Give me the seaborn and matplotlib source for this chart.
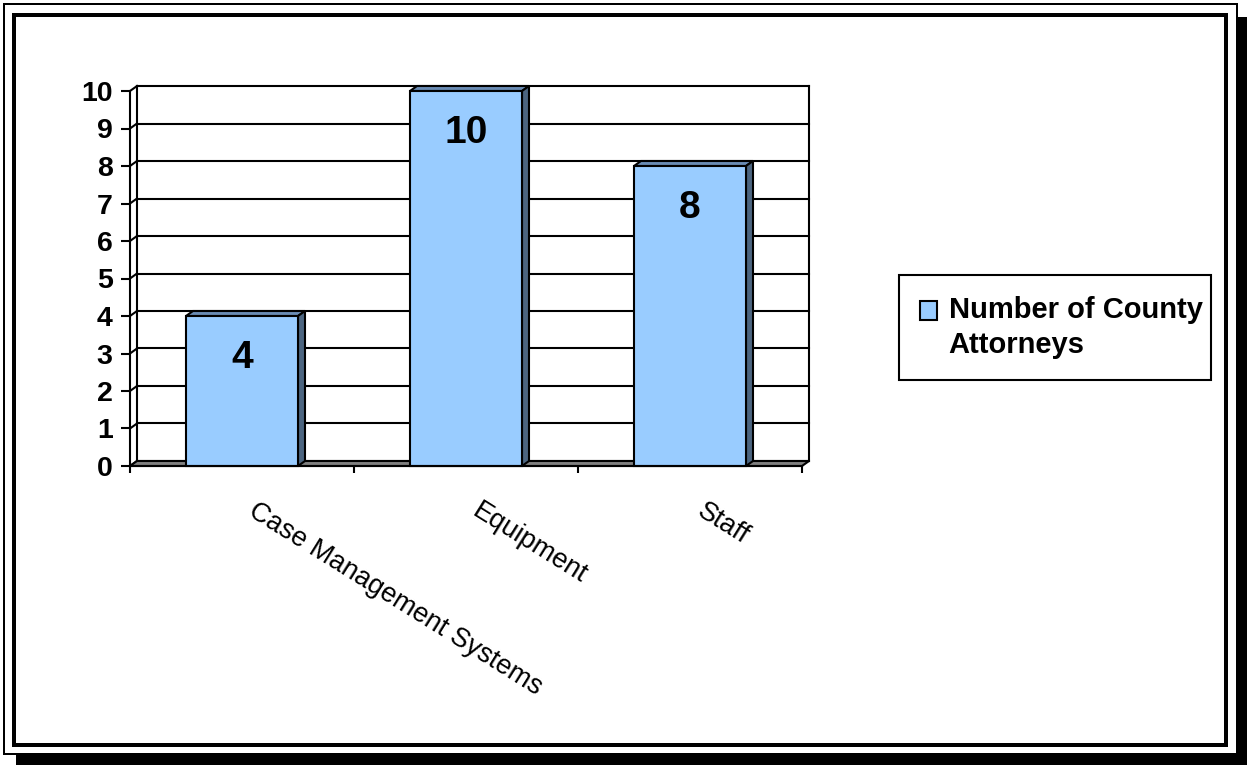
import numpy as np
import pandas as pd
import matplotlib
matplotlib.use("Agg")
import matplotlib.pyplot as plt
from matplotlib.patches import Rectangle, Polygon, Patch
from matplotlib.legend_handler import HandlerPatch
from matplotlib.transforms import blended_transform_factory, offset_copy
import seaborn as sns

# ---------------- data ----------------
categories = ["Case Management Systems", "Equipment", "Staff"]
values = [4, 10, 8]
series_name = "Number of County Attorneys"
legend_label = "Number of County\nAttorneys"
y_ticks = list(range(0, 11))

# ---------------- style ----------------
W, H = 1247, 765
BAR = "#99CCFF"
TOP = "#6A8CB4"
SIDE = "#4C6580"
FLOOR = "#808080"

sns.set_theme(style="white")
plt.rcParams['font.family'] = ['Liberation Sans', 'DejaVu Sans']
plt.rcParams['text.color'] = 'black'
plt.rcParams['axes.labelcolor'] = 'black'
plt.rcParams['xtick.color'] = 'black'
plt.rcParams['ytick.color'] = 'black'

fig = plt.figure(figsize=(W / 100, H / 100), dpi=100)
fig.patch.set_facecolor("white")


def fx(x):
    return x / W


def fy(y):
    return 1 - y / H


def frect(x0, y0, x1, y1, color, z):
    fig.patches.append(Rectangle((fx(x0), fy(y1)), fx(x1) - fx(x0), fy(y0) - fy(y1),
                                 transform=fig.transFigure, facecolor=color,
                                 edgecolor='none', zorder=z))


# frame with drop shadow
frect(16, 17, 1247, 765, 'black', 0)
frect(3, 3, 1238, 755, 'black', 1)
frect(5, 5, 1236, 753, 'white', 2)
frect(12, 13, 1228, 747, 'black', 3)
frect(16, 17, 1224, 743, 'white', 4)

# ---------------- axes ----------------
ax = fig.add_axes([fx(130), fy(466), fx(802) - fx(130), (466 - 91) / H])
ax.set_zorder(10)
ax.patch.set_visible(False)

df = pd.DataFrame({"category": categories, "value": values})
sns.barplot(data=df, x="category", y="value", color=BAR, width=0.5,
            edgecolor="black", linewidth=1.5, saturation=1, ax=ax, zorder=6,
            label=series_name)
if ax.get_legend() is not None:
    ax.get_legend().remove()

n = len(categories)
ax.set_xlim(-0.5, n - 0.5)
ax.set_ylim(0, 10)

# depth of the 3D effect (pixels -> data units)
inv = ax.transData.inverted()
p0 = inv.transform((0, 0))
p1 = inv.transform((7, 5))
ddx, ddy = p1 - p0

x_left, x_right = ax.get_xlim()
line_kw = dict(color='black', lw=1.5, clip_on=False, solid_capstyle='projecting')
# back wall gridlines and left wall connectors
for v in y_ticks:
    ax.plot([x_left + ddx, x_right + ddx], [v + ddy, v + ddy], zorder=2, **line_kw)
    ax.plot([x_left, x_left + ddx], [v, v + ddy], zorder=2, **line_kw)
ax.plot([x_left + ddx] * 2, [ddy, y_ticks[-1] + ddy], zorder=2, **line_kw)
ax.plot([x_right + ddx] * 2, [ddy, y_ticks[-1] + ddy], zorder=2, **line_kw)

# floor
ax.add_patch(Polygon([(x_left, 0), (x_right, 0), (x_right + ddx, ddy), (x_left + ddx, ddy)],
                     closed=True, facecolor=FLOOR, edgecolor='black', lw=1.5,
                     zorder=3, clip_on=False))

# 3D faces of the bars
for p in ax.patches[:]:
    if not isinstance(p, Rectangle) or p.get_height() <= 0:
        continue
    x0, w, h = p.get_x(), p.get_width(), p.get_height()
    ax.add_patch(Polygon([(x0, h), (x0 + w, h), (x0 + w + ddx, h + ddy), (x0 + ddx, h + ddy)],
                         closed=True, facecolor=TOP, edgecolor='black', lw=1.5,
                         zorder=5, clip_on=False))
    ax.add_patch(Polygon([(x0 + w, 0), (x0 + w + ddx, ddy), (x0 + w + ddx, h + ddy), (x0 + w, h)],
                         closed=True, facecolor=SIDE, edgecolor='black', lw=1.5,
                         zorder=5, clip_on=False))
    p.set_clip_on(False)

# value labels
ax.bar_label(ax.containers[0], labels=[str(v) for v in values], padding=-43,
             fontsize=28, fontweight='bold', color='black', zorder=9)

# spines
for s in ['top', 'right']:
    ax.spines[s].set_visible(False)
for s in ['left', 'bottom']:
    ax.spines[s].set_color('black')
    ax.spines[s].set_linewidth(1.5)
    ax.spines[s].set_zorder(7)

# y axis
ax.set_yticks(y_ticks)
ax.set_yticklabels([str(t) for t in y_ticks], fontsize=20.5, fontweight='bold', color='black')
ax.tick_params(axis='y', direction='out', length=6.5, width=1.5, pad=6,
               left=True, colors='black')
ax.set_ylabel("")

# x axis: ticks at category boundaries, rotated labels
ax.set_xticks(np.arange(n + 1) - 0.5)
ax.set_xticklabels([])
ax.tick_params(axis='x', direction='out', length=5, width=1.5, bottom=True, colors='black')
ax.set_xlabel("")
base = blended_transform_factory(ax.transData, ax.transAxes)
lab_tr = offset_copy(base, fig=fig, x=16, y=-32, units='dots')
for i, c in enumerate(categories):
    ax.text(i, 0, c, transform=lab_tr, rotation=-32, rotation_mode='anchor',
            ha='left', va='top', fontsize=19.5, color='black')

ax.grid(False)


# ---------------- legend ----------------
class SwatchHandler(HandlerPatch):
    def create_artists(self, legend, orig_handle, xdescent, ydescent, width, height,
                       fontsize, trans):
        r = Rectangle((-xdescent, -ydescent + 0.6 * fontsize), width, height)
        self.update_prop(r, orig_handle, legend)
        r.set_transform(trans)
        return [r]


handle = Patch(facecolor=BAR, edgecolor='black', linewidth=1.5)
leg = fig.legend(handles=[handle], labels=[legend_label],
                 loc='upper left',
                 bbox_to_anchor=(fx(899), fy(380), fx(1211) - fx(899), fy(275) - fy(380)),
                 mode='expand', borderaxespad=0, frameon=True, fancybox=False,
                 framealpha=1, edgecolor='black', facecolor='white',
                 prop={'weight': 'bold', 'size': 21, 'family': ['Liberation Sans', 'DejaVu Sans']},
                 handlelength=0.6, handleheight=0.62, handletextpad=0.38,
                 borderpad=0.72, handler_map={Patch: SwatchHandler()})
leg.get_frame().set_linewidth(1.5)
leg.set_zorder(20)
for t in leg.get_texts():
    t.set_color('black')
    t.set_linespacing(1.3)

fig.savefig("out.png", dpi=100, facecolor='white')
